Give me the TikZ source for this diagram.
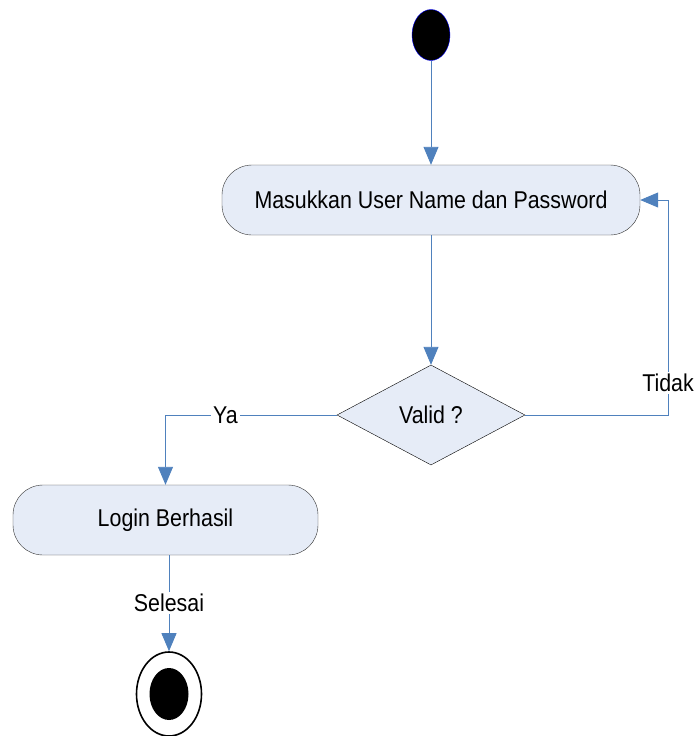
\documentclass[tikz,border=0pt]{standalone}
\usepackage{fontspec}
\setmainfont{Liberation Sans}[FakeStretch=0.88]
\usetikzlibrary{shapes.geometric,arrows.meta}
\definecolor{garis}{RGB}{79,129,189}
\definecolor{isi}{RGB}{230,236,247}
\begin{document}
\begin{tikzpicture}[x=1pt,y=-1pt]
\tikzstyle{aktivitas} = [draw=black!80, fill=isi, rounded corners=30pt, minimum height=70pt, font=\fontsize{24.3}{26}\selectfont];
\tikzstyle{alur} = [draw=garis, line width=0.9pt, -{Triangle[width=15pt,length=18pt]}];
\tikzstyle{ket} = [fill=white, inner sep=2pt, font=\fontsize{24.3}{26}\selectfont];
\useasboundingbox (0,0) rectangle (700,736);

\node[ellipse, draw=blue, fill=black, minimum width=38pt, minimum height=51pt, inner sep=0] (mulai) at (431,35) {};
\node[aktivitas, minimum width=418pt] (masuk) at (431,200) {Masukkan User Name dan Password};
\node[diamond, draw=black, fill=isi, minimum width=188pt, minimum height=100pt, aspect=1.88, inner sep=0, font=\fontsize{24.3}{26}\selectfont] (valid) at (431,415) {Valid ?};
\node[aktivitas, minimum width=305pt] (login) at (165.5,520) {Login Berhasil};
\node[ellipse, draw=black, line width=1.6pt, fill=white, minimum width=65pt, minimum height=84pt, inner sep=0] (selesai) at (169,694) {};
\node[ellipse, fill=black, minimum width=39pt, minimum height=52pt, inner sep=0] at (selesai) {};

\draw[alur] (mulai) -- (masuk);
\draw[alur] (masuk) -- (valid);
\draw[alur] (valid.east) -- (668,415) -- node[ket, pos=0.15] {Tidak} (668,200) -- (masuk.east);
\draw[alur] (valid.west) -- node[ket, pos=0.65] {Ya} (login.north |- valid.west) -- (login.north);
\draw[alur] (login.south -| selesai) -- node[ket] {Selesai} (selesai.north);
\end{tikzpicture}
\end{document}
